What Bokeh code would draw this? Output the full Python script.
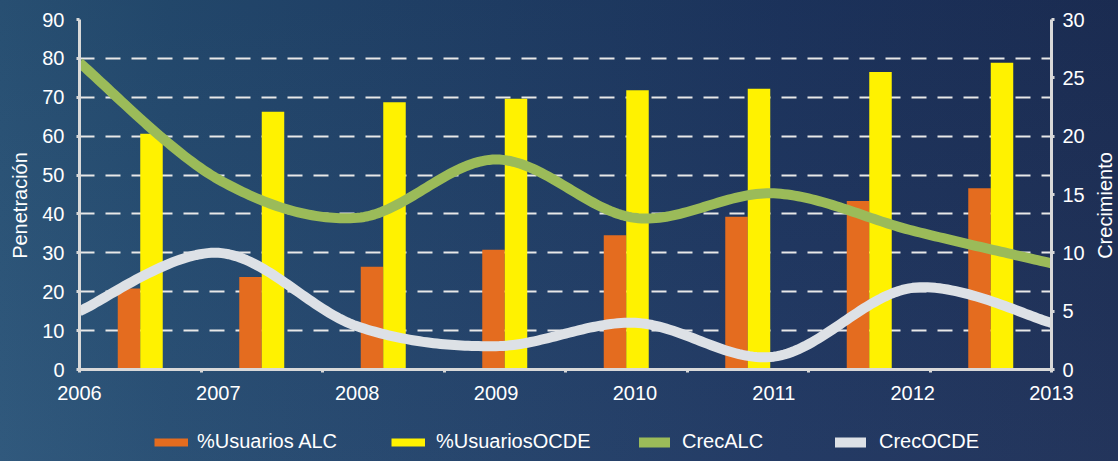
import numpy as np
from bokeh.plotting import figure
from bokeh.layouts import column, row
from bokeh.models import (Range1d, LinearAxis, FixedTicker, Legend, LegendItem,
                          ColumnDataSource, Label)
from bokeh.transform import dodge
from bokeh.embed import file_html
from bokeh.resources import INLINE

# ---------------- data ----------------
years = [2006, 2007, 2008, 2009, 2010, 2011, 2012, 2013]
usuarios_alc = [20.8, 23.8, 26.4, 30.8, 34.5, 39.3, 43.3, 46.6]
usuarios_ocde = [60.6, 66.3, 68.7, 69.6, 71.8, 72.2, 76.5, 78.9]
crec_alc = [26.3, 16.3, 13.0, 18.0, 13.0, 15.1, 11.9, 9.1]
crec_ocde = [5.0, 10.0, 3.7, 2.0, 4.0, 1.1, 7.0, 4.0]
left_ticks = [0, 10, 20, 30, 40, 50, 60, 70, 80, 90]
right_ticks = [0, 5, 10, 15, 20, 25, 30]
series_names = ["%Usuarios ALC", "%UsuariosOCDE", "CrecALC", "CrecOCDE"]
left_title = "Penetración"
right_title = "Crecimiento"

FONT = "Liberation Sans"
C_ALC = "#E46C1F"
C_OCDE = "#FFF200"
C_GREEN = "#9BBB59"
C_WHITE = "#DDE1E6"
AXIS_C = "#D9D9D9"
TL_W, TR_W = 30, 28          # title strips
W = 1110 - TL_W - TR_W       # chart width
H_CHART, H_LEG = 410, 35
BL, BR = 41, 39              # side borders shared by chart and legend strip

n = len(years)
slot = (years[-1] - years[0]) / n          # width of one bar category in year units
bar_x = [years[0] + (i + 0.5) * slot for i in range(n)]
bar_w = 0.162

src = ColumnDataSource(dict(x=bar_x, alc=usuarios_alc, ocde=usuarios_ocde))


def smooth(xs, ys, steps=40):
    """Excel-like smoothed line (Catmull-Rom as cubic Bezier) through the points."""
    P = np.column_stack([np.asarray(xs, float), np.asarray(ys, float)])
    Q = np.vstack([P[0], P, P[-1]])
    out = []
    for i in range(len(P) - 1):
        p0, p1, p2, p3 = Q[i], Q[i + 1], Q[i + 2], Q[i + 3]
        c1 = p1 + (p2 - p0) / 6.0
        c2 = p2 - (p3 - p1) / 6.0
        t = np.linspace(0, 1, steps, endpoint=(i == len(P) - 2))[:, None]
        seg = ((1 - t) ** 3) * p1 + 3 * ((1 - t) ** 2) * t * c1 + 3 * (1 - t) * t ** 2 * c2 + t ** 3 * p2
        out.append(seg)
    S = np.vstack(out)
    return S[:, 0], S[:, 1]


def blank(width, height, **kw):
    f = figure(width=width, height=height, output_backend="svg", toolbar_location=None,
               x_range=Range1d(0, 1), y_range=Range1d(0, 1),
               x_axis_location=None, y_axis_location=None,
               min_border_top=0, min_border_bottom=0, **kw)
    f.background_fill_alpha = 0
    f.border_fill_alpha = 0
    f.outline_line_color = None
    f.xgrid.visible = False
    f.ygrid.visible = False
    return f


p = figure(width=W, height=H_CHART, output_backend="svg", toolbar_location=None,
           x_range=Range1d(years[0], years[-1]), y_range=Range1d(0, 90),
           min_border_left=BL, min_border_right=BR, min_border_top=11, min_border_bottom=49)
p.background_fill_alpha = 0
p.border_fill_alpha = 0
p.outline_line_color = None
p.extra_y_ranges = {"crec": Range1d(0, 30)}

# grid
p.xgrid.visible = False
p.ygrid.grid_line_color = "#E8E8E8"
p.ygrid.grid_line_width = 2
p.ygrid.grid_line_dash = "15 11"

# x axis
xa = p.xaxis[0]
xa.ticker = FixedTicker(ticks=years,
                        minor_ticks=[years[0] + k * slot for k in range(n + 1)])
xa.major_tick_out = 0
xa.major_tick_in = 0
xa.minor_tick_out = 3
xa.minor_tick_in = 0
xa.minor_tick_line_color = AXIS_C
xa.minor_tick_line_width = 3
xa.major_label_standoff = 13

# left axis
ya = p.yaxis[0]
ya.ticker = FixedTicker(ticks=left_ticks)
ya.major_tick_out = 3
ya.major_tick_in = 0
ya.minor_tick_line_color = None
ya.major_label_standoff = 12

# right axis
ra = LinearAxis(y_range_name="crec", ticker=FixedTicker(ticks=right_ticks))
ra.major_tick_out = 3
ra.major_tick_in = 0
ra.minor_tick_line_color = None
ra.major_label_standoff = 8
p.add_layout(ra, "right")

for ax in (xa, ya, ra):
    ax.axis_line_color = AXIS_C
    ax.axis_line_width = 3
    ax.major_tick_line_color = AXIS_C
    ax.major_tick_line_width = 3
    ax.major_label_text_color = "white"
    ax.major_label_text_font = FONT
    ax.major_label_text_font_size = "20px"

# bars
p.vbar(x=dodge("x", -bar_w / 2), top="alc", width=bar_w, source=src,
       fill_color=C_ALC, line_color=None)
p.vbar(x=dodge("x", bar_w / 2), top="ocde", width=bar_w, source=src,
       fill_color=C_OCDE, line_color=None)

# smoothed lines on the right axis
gx, gy = smooth(years, crec_alc)
wx, wy = smooth(years, crec_ocde)
p.line(wx, wy, y_range_name="crec", line_color=C_WHITE, line_width=10, line_join="round")
p.line(gx, gy, y_range_name="crec", line_color=C_GREEN, line_width=10, line_join="round")

# ---------------- legend strip ----------------
lf = blank(W, H_LEG, min_border_left=BL, min_border_right=BR)
nan = float("nan")
sw_alc = lf.line(x=[nan], y=[nan], line_color=C_ALC, line_width=8, line_cap="butt")
sw_ocde = lf.line(x=[nan], y=[nan], line_color=C_OCDE, line_width=8, line_cap="butt")
sw_g = lf.line(x=[nan], y=[nan], line_color=C_GREEN, line_width=10, line_cap="round")
sw_w = lf.line(x=[nan], y=[nan], line_color=C_WHITE, line_width=10, line_cap="round")

for r, name, lx, gw, so in [(sw_alc, series_names[0], 75, 34, 9),
                            (sw_ocde, series_names[1], 312, 34, 11),
                            (sw_g, series_names[2], 560, 31, 12),
                            (sw_w, series_names[3], 756, 31, 13)]:
    lg = Legend(items=[LegendItem(label=name, renderers=[r])], location=(lx, 0),
                orientation="horizontal", padding=0, margin=0, spacing=0,
                border_line_alpha=0, background_fill_alpha=0,
                glyph_width=gw, glyph_height=22, label_height=22, label_standoff=so,
                label_text_color="white", label_text_font=FONT, label_text_font_size="20px")
    lf.add_layout(lg, "center")

# ---------------- axis title strips ----------------
H_ALL = H_CHART + H_LEG
tl = blank(TL_W, H_ALL, min_border_left=0, min_border_right=0)
tl.add_layout(Label(x=11, y=H_ALL - 197, x_units="screen", y_units="screen", text=left_title,
                    angle=np.pi / 2, text_align="center", text_baseline="middle",
                    text_color="white", text_font=FONT, text_font_size="20px"))
tr = blank(TR_W, H_ALL, min_border_left=0, min_border_right=0)
tr.add_layout(Label(x=14, y=H_ALL - 197, x_units="screen", y_units="screen", text=right_title,
                    angle=np.pi / 2, text_align="center", text_baseline="middle",
                    text_color="white", text_font=FONT, text_font_size="20px"))

layout = row(tl, column(p, lf, spacing=0), tr, spacing=0)

html = file_html(layout, INLINE)
css = ("<style>html,body{margin:0;padding:0;overflow:hidden;}body{margin:8px 0 8px 8px;"
       "background:linear-gradient(to bottom, rgba(0,0,0,0.06), rgba(255,255,255,0.03)),"
       "linear-gradient(to right, #2a5479 0%, #244b71 15%, #203f68 45%, #1d3560 70%, #1c2e56 100%);"
       "background-attachment:fixed;min-height:445px;}</style>")
html = html.replace("</head>", css + "</head>", 1)
open("out.html", "w").write(html)
